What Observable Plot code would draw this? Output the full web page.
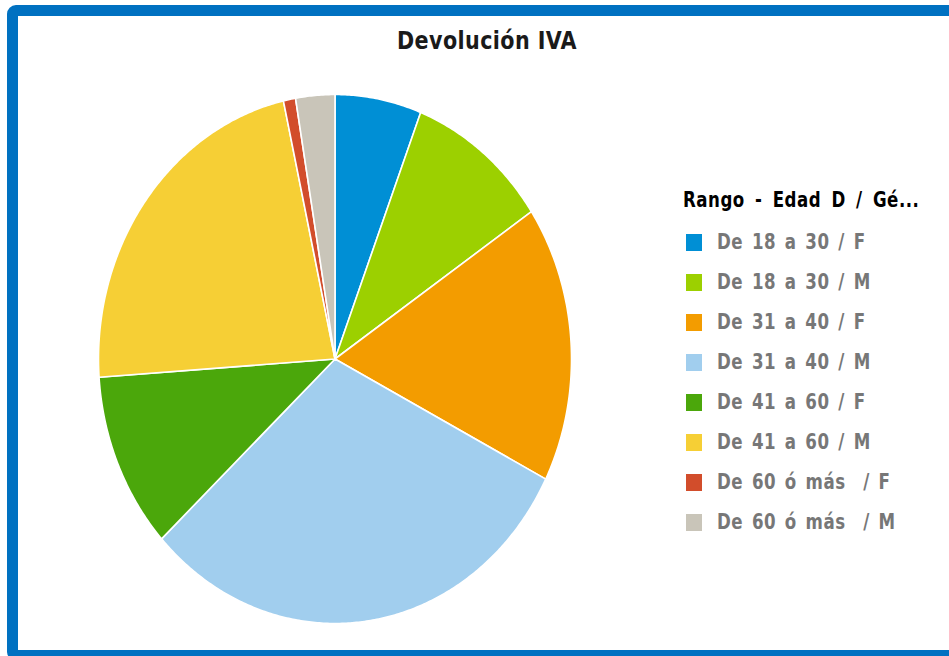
<!DOCTYPE html>
<html>
<head>
<meta charset="utf-8">
<script src="https://cdn.jsdelivr.net/npm/d3@7"></script>
<script src="https://cdn.jsdelivr.net/npm/@observablehq/plot@0.6"></script>
<style>
  html, body { margin: 0; padding: 0; background: #fff; width: 949px; height: 656px; overflow: hidden; }
  #frame { position: absolute; left: 7px; top: 5px; width: 980px; height: 634px; border: 11px solid #0071C1; border-radius: 9px; background: #fff; }
  #title { position: absolute; left: 18px; top: 27px; width: 938px; text-align: center; font-family: "DejaVu Sans Condensed", "DejaVu Sans", sans-serif; font-weight: bold; font-size: 23px; letter-spacing: 0.4px; color: #1a1a1a; transform: scaleY(1.05); transform-origin: center top; }
  #chart { position: absolute; left: 18px; top: 17px; }
  #legend { position: absolute; left: 683px; top: 187px; font-family: "DejaVu Sans Condensed", "DejaVu Sans", sans-serif; font-weight: bold; }
  .lt { font-size: 18.5px; color: #000; height: 24px; line-height: 24px; transform: scaleY(1.1); transform-origin: left top; white-space: pre; letter-spacing: 0.5px; word-spacing: 4px; }
  .row { position: absolute; left: 3px; height: 20px; white-space: nowrap; }
  .sw { position: absolute; left: 0; top: 1px; width: 16px; height: 17px; }
  .tx { position: absolute; left: 31px; top: -2px; font-size: 18.5px; line-height: 20px; color: #777; transform: scaleY(1.12); transform-origin: left top; white-space: pre; letter-spacing: 0.5px; word-spacing: 2.5px; }
</style>
</head>
<body>
<div id="frame"></div>
<div id="title"></div>
<div id="chart"></div>
<div id="legend"></div>
<script>
const chartTitle = "Devolución IVA";
const legendTitle = "Rango - Edad D / Gé...";
const categories = [
  "De 18 a 30 / F",
  "De 18 a 30 / M",
  "De 31 a 40 / F",
  "De 31 a 40 / M",
  "De 41 a 60 / F",
  "De 41 a 60 / M",
  "De 60 ó más  / F",
  "De 60 ó más  / M"
];
const values = [5.9, 9.7, 16.9, 30.6, 10.8, 22.6, 0.83, 2.67];
const colors = ["#008FD5", "#9CD000", "#F39C00", "#A1CEEE", "#4BA70B", "#F6CF35", "#D24D2B", "#C9C5B9"];

document.getElementById("title").textContent = chartTitle;

// Build slice outlines (in unit-circle data space) from the values
const total = d3.sum(values);
const points = [];
let acc = 0;
categories.forEach((key, i) => {
  const a0 = acc / total * 2 * Math.PI;
  acc += values[i];
  const a1 = acc / total * 2 * Math.PI;
  const n = Math.max(2, Math.ceil((a1 - a0) / (Math.PI / 360)));
  points.push({key, x: 0, y: 0});
  for (let k = 0; k <= n; k++) {
    const a = a0 + (a1 - a0) * k / n;
    points.push({key, x: Math.sin(a), y: Math.cos(a)});
  }
  points.push({key, x: 0, y: 0});
});

const plot = Plot.plot({
  width: 660,
  height: 633,
  marginLeft: 80,
  marginRight: 107,
  marginTop: 77,
  marginBottom: 27,
  style: {background: "transparent", overflow: "visible"},
  x: {domain: [-1, 1], axis: null},
  y: {domain: [-1, 1], axis: null},
  color: {domain: categories, range: colors},
  marks: [
    Plot.line(points, {x: "x", y: "y", z: "key", fill: "key", stroke: "white", strokeWidth: 1.6, strokeLinejoin: "round"})
  ]
});
document.getElementById("chart").appendChild(plot);

const legend = document.getElementById("legend");
const lt = document.createElement("div");
lt.className = "lt";
lt.textContent = legendTitle;
legend.appendChild(lt);
categories.forEach((c, i) => {
  const row = document.createElement("div");
  row.className = "row";
  row.style.top = (46 + i * 40) + "px";
  const sw = document.createElement("div");
  sw.className = "sw";
  sw.style.background = colors[i];
  const tx = document.createElement("div");
  tx.className = "tx";
  tx.textContent = c;
  row.appendChild(sw);
  row.appendChild(tx);
  legend.appendChild(row);
});
</script>
</body>
</html>
